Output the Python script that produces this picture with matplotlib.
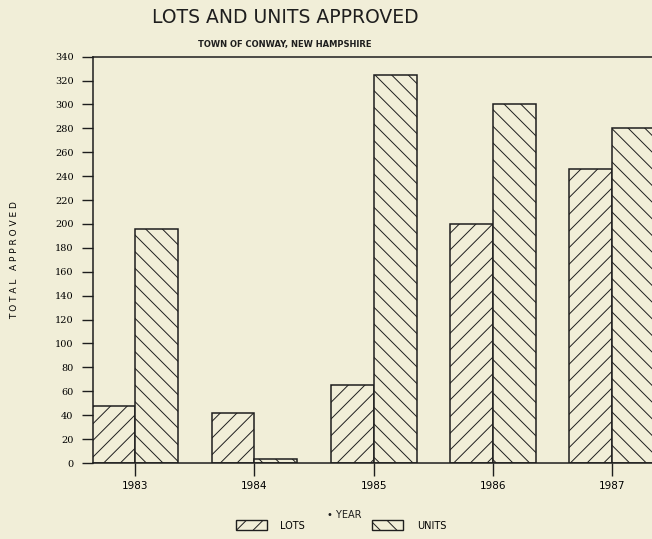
import matplotlib.pyplot as plt
from matplotlib.patches import Patch
import numpy as np

years = ["1983", "1984", "1985", "1986", "1987"]
lots = [48, 42, 65, 200, 246]
units = [196, 3, 325, 300, 280]
yticks = list(range(0, 341, 20))

bg = "#f1eed8"
ink = "#1e1e1e"
plt.rcParams["hatch.linewidth"] = 0.7
plt.rcParams["hatch.color"] = ink

fig = plt.figure(figsize=(6.52, 5.39), dpi=100, facecolor=bg)
ax = fig.add_axes([0.1426, 0.141, 0.861, 0.754])
ax.set_facecolor(bg)

x = np.arange(len(years))
w = 0.36
ax.bar(x - w / 2, lots, w, facecolor=bg, edgecolor=ink, linewidth=1.1, hatch="//")
ax.bar(x + w / 2, units, w, facecolor=bg, edgecolor=ink, linewidth=1.1, hatch="\\\\")

ax.set_xlim(-0.355, 4.355)
ax.set_ylim(0, 340)
ax.set_xticks(x)
ax.set_xticklabels(years, fontsize=7.5)
ax.set_yticks(yticks)
ax.set_yticklabels([str(v) for v in yticks], fontsize=7, family="DejaVu Serif")
ax.tick_params(axis="y", length=8, width=1, color=ink, pad=6)
ax.tick_params(axis="x", length=9, width=1, color=ink, pad=4)
for s in ax.spines.values():
    s.set_color(ink)
    s.set_linewidth(1.1)

ax.set_ylabel("T O T A L   A P P R O V E D", fontsize=6.5, labelpad=26)

fig.text(0.437, 0.968, "LOTS AND UNITS APPROVED", ha="center", va="center",
         fontsize=13.5, color=ink)
fig.text(0.437, 0.918, "TOWN OF CONWAY, NEW HAMPSHIRE", ha="center", va="center",
         fontsize=6, color=ink, fontweight="bold")
fig.text(0.528, 0.044, "\u2022 YEAR", ha="center", va="center", fontsize=7, color=ink)

handles = [Patch(facecolor=bg, edgecolor=ink, hatch="//", label="LOTS"),
           Patch(facecolor=bg, edgecolor=ink, hatch="\\\\", label="UNITS")]
fig.legend(handles=handles, loc="center", bbox_to_anchor=(0.523, 0.025), ncol=2,
           frameon=False, fontsize=7, handlelength=3.2, handleheight=1.2,
           columnspacing=6.9, handletextpad=1.4)

plt.savefig("out.png", dpi=100, facecolor=bg)
plt.close()
